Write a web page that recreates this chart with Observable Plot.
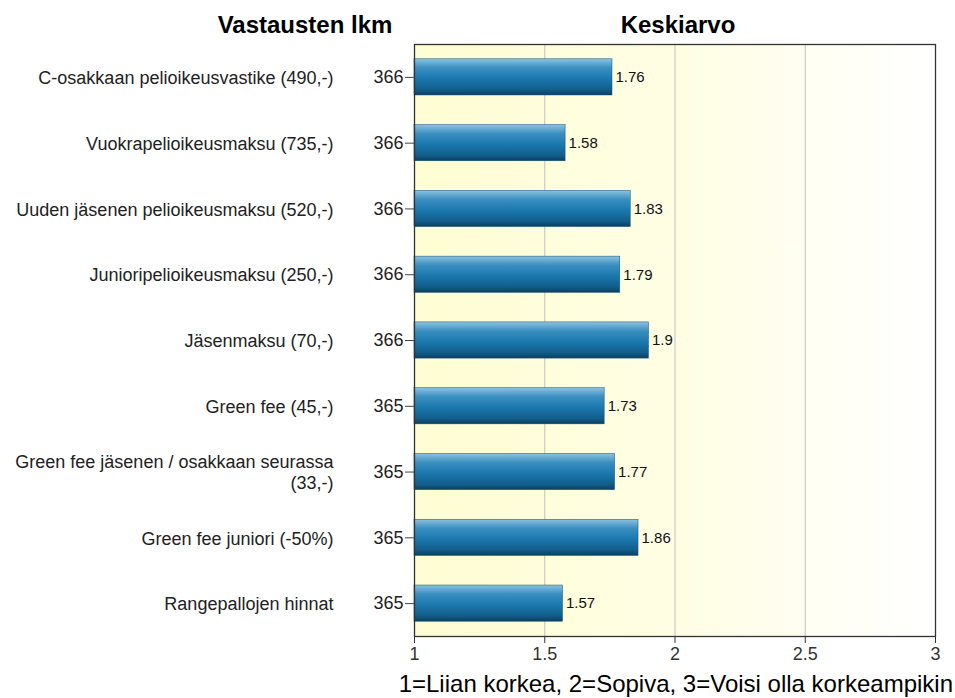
<!DOCTYPE html>
<html>
<head>
<meta charset="utf-8">
<script src="https://cdn.jsdelivr.net/npm/d3@7"></script>
<script src="https://cdn.jsdelivr.net/npm/@observablehq/plot@0.6"></script>
<style>
  html, body { margin: 0; padding: 0; background: #fff; }
  body { width: 955px; height: 698px; overflow: hidden; font-family: "Liberation Sans", Arial, sans-serif; }
  #head { position: relative; height: 36px; }
  #head span { position: absolute; top: 11px; font-weight: bold; font-size: 24px; color: #000; transform: translateX(-50%); white-space: nowrap; line-height: normal; }
  #foot { position: relative; height: 26px; }
  #foot span { position: absolute; right: 2px; top: -2px; font-size: 24px; color: #000; white-space: nowrap; line-height: normal; }
  #chart svg { display: block; }
</style>
</head>
<body>
<div id="head"><span style="left:305px">Vastausten lkm</span><span style="left:678px">Keskiarvo</span></div>
<div id="chart"></div>
<div id="foot"><span>1=Liian korkea, 2=Sopiva, 3=Voisi olla korkeampikin</span></div>
<script>
const categories = [
  "C-osakkaan pelioikeusvastike (490,-)",
  "Vuokrapelioikeusmaksu (735,-)",
  "Uuden jäsenen pelioikeusmaksu (520,-)",
  "Junioripelioikeusmaksu (250,-)",
  "Jäsenmaksu (70,-)",
  "Green fee (45,-)",
  "Green fee jäsenen / osakkaan seurassa\n(33,-)",
  "Green fee juniori (-50%)",
  "Rangepallojen hinnat"
];
const means = [1.76, 1.58, 1.83, 1.79, 1.9, 1.73, 1.77, 1.86, 1.57];
const counts = [366, 366, 366, 366, 366, 365, 365, 365, 365];
const xTicks = [1, 1.5, 2, 2.5, 3];

const data = categories.map((c, i) => ({cat: c, mean: means[i], n: counts[i]}));
const countOf = new Map(data.map(d => [d.cat, d.n]));

const chart = Plot.plot({
  width: 955,
  height: 636,
  marginLeft: 414,
  marginRight: 20,
  marginTop: 8,
  marginBottom: 36,
  style: {fontFamily: "'Liberation Sans', Arial, sans-serif", background: "transparent"},
  x: {domain: [1, 3], ticks: xTicks},
  y: {domain: categories, paddingInner: 0.45, paddingOuter: 0.225, round: false, label: null},
  marks: [
    Plot.frame({fill: "url(#bgGrad)", stroke: "none"}),
    Plot.ruleX([1.5, 2, 2.5], {stroke: "#c0c0c0", strokeWidth: 1}),
    Plot.barX(data, {y: "cat", x1: 1, x2: "mean", fill: "url(#barGrad)", stroke: "#0f4f74", strokeWidth: 0.5}),
    Plot.text(data, {y: "cat", x: "mean", text: d => String(d.mean), textAnchor: "start", dx: 3, fontSize: 15, fill: "#111"}),
    Plot.frame({stroke: "#333", strokeWidth: 1.3}),
    Plot.axisX({ticks: xTicks, tickSize: 7, tickPadding: 4, fontSize: 18, label: null, tickFormat: d => String(d), stroke: "#333", fill: "#333"}),
    Plot.axisY({tickSize: 9, tickPadding: 2, fontSize: 18, label: null, tickFormat: d => String(countOf.get(d)), fill: "#222", stroke: "#444"}),
    Plot.axisY({tickSize: 0, tickPadding: 81, fontSize: 18, label: null, tickFormat: d => d, fill: "#222", lineHeight: 1.17})
  ]
});

const svg = d3.select(chart);
const defs = svg.insert("defs", ":first-child");
const bg = defs.append("linearGradient").attr("id", "bgGrad").attr("x1", "0").attr("x2", "1").attr("y1", "0").attr("y2", "0");
bg.append("stop").attr("offset", "0%").attr("stop-color", "#fffdd2");
bg.append("stop").attr("offset", "55%").attr("stop-color", "#fffee6");
bg.append("stop").attr("offset", "100%").attr("stop-color", "#ffffff");
const bar = defs.append("linearGradient").attr("id", "barGrad").attr("x1", "0").attr("x2", "0").attr("y1", "0").attr("y2", "1");
bar.append("stop").attr("offset", "0%").attr("stop-color", "#8cc3e0");
bar.append("stop").attr("offset", "25%").attr("stop-color", "#3b8fc0");
bar.append("stop").attr("offset", "55%").attr("stop-color", "#1a78ae");
bar.append("stop").attr("offset", "85%").attr("stop-color", "#125d8a");
bar.append("stop").attr("offset", "100%").attr("stop-color", "#0b3f60");

document.getElementById("chart").appendChild(chart);
</script>
</body>
</html>
